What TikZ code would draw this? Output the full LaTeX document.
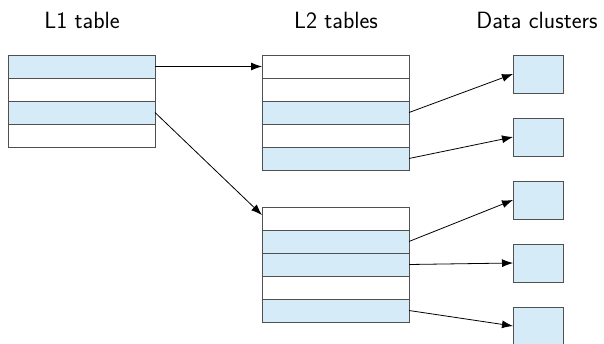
\documentclass[tikz,border=0pt]{standalone}
\usetikzlibrary{arrows.meta,calc}
\definecolor{cellblue}{HTML}{D5EBF8}
\definecolor{celledge}{HTML}{505050}
\begin{document}
\begin{tikzpicture}[x=1pt,y=-1pt,
  cell/.style={rectangle,draw=celledge,line width=0.9pt,minimum width=147pt,minimum height=23pt,inner sep=0pt,outer sep=0pt,anchor=north west},
  full/.style={cell,fill=cellblue},
  empty/.style={cell,fill=white},
  cluster/.style={rectangle,draw=celledge,fill=cellblue,line width=0.9pt,minimum width=50pt,minimum height=38pt,inner sep=0pt,outer sep=0pt,anchor=north west},
  title/.style={font=\sffamily\fontsize{23.5}{27}\selectfont,inner sep=0pt},
  link/.style={line width=0.8pt,-{Latex[length=11pt,width=8pt]}}
]
\useasboundingbox (0,0) rectangle (604,344);
% titles
\node[title] (t1) at (82,20) {L1 table};
\node[title] (t2) at (336,20) {L2 tables};
\node[title] (t3) at (537,20) {Data clusters};
% L1 table
\node[full]  (a1) at (8,55) {};
\node[empty] (a2) at (8,78) {};
\node[full]  (a3) at (8,101) {};
\node[empty] (a4) at (8,124) {};
% L2 upper
\node[empty] (b1) at (262,55) {};
\node[empty] (b2) at (262,78) {};
\node[full]  (b3) at (262,101) {};
\node[empty] (b4) at (262,124) {};
\node[full]  (b5) at (262,147) {};
% L2 lower
\node[empty] (c1) at (262,207) {};
\node[full]  (c2) at (262,230) {};
\node[full]  (c3) at (262,253) {};
\node[empty] (c4) at (262,276) {};
\node[full]  (c5) at (262,299) {};
% clusters
\node[cluster] (d1) at (513,55) {};
\node[cluster] (d2) at (513,118) {};
\node[cluster] (d3) at (513,181) {};
\node[cluster] (d4) at (513,244) {};
\node[cluster] (d5) at (513,307) {};
% connectors
\draw[link] (a1.east) -- (b1.west);
\coordinate (c1in) at ($(c1.north west)!0.35!(c1.south west)$);
\draw[link] (a3.east) -- (c1in);
\draw[link] (b3.east) -- (d1.west);
\draw[link] (b5.east) -- (d2.west);
\draw[link] (c2.east) -- (d3.west);
\draw[link] (c3.east) -- (d4.west);
\draw[link] (c5.east) -- (d5.west);
\end{tikzpicture}
\end{document}
